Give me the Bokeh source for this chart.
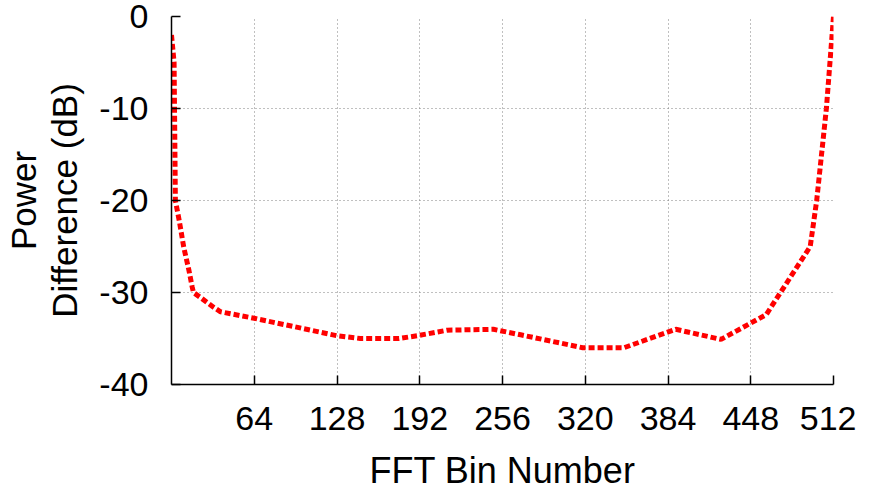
from bokeh.plotting import figure
from bokeh.models import Range1d, FixedTicker, CustomJSTickFormatter
from bokeh.embed import file_html
from bokeh.resources import INLINE

# FFT bin number vs power difference (dB)
bins = [0, 2, 3, 6, 9.5, 13.5, 16, 17, 22, 32.5, 38, 64, 128, 146, 176, 190,
        213, 249, 270, 318, 350, 390, 425, 460, 494, 499, 506.5, 512]
power_db = [-2, -5, -20, -22.2, -25.1, -27.6, -29.4, -30, -30.5, -31.6, -32.1, -32.8,
            -34.7, -35.0, -35.0, -34.7, -34.1, -34.0, -34.6, -36.0, -36.0, -34.0,
            -35.1, -32.4, -25.0, -20.0, -10.0, 0.0]

x_ticks = [64, 128, 192, 256, 320, 384, 448, 512]
y_ticks = [-40, -30, -20, -10, 0]

FONT = "Liberation Sans"

p = figure(frame_width=662, frame_height=368, output_backend="svg", toolbar_location=None,
           x_range=Range1d(0, 512), y_range=Range1d(-40, 0),
           min_border_left=171, min_border_right=23, min_border_top=16,
           min_border_bottom=90)

p.line(bins, power_db, line_color="#ff0000", line_width=5, line_dash="6 3")

p.outline_line_color = None
p.background_fill_color = "white"

fmt = CustomJSTickFormatter(code="return tick.toString();")
for ax in (p.xaxis[0], p.yaxis[0]):
    ax.formatter = fmt
    ax.major_label_text_font = FONT
    ax.major_label_text_font_size = "34px"
    ax.major_label_text_color = "black"
    ax.axis_label_text_font = FONT
    ax.axis_label_text_font_style = "normal"
    ax.axis_label_text_color = "black"
    ax.axis_line_color = "black"
    ax.axis_line_width = 1.5
    ax.major_tick_in = 9
    ax.major_tick_out = 0
    ax.major_tick_line_width = 1.5
    ax.minor_tick_line_color = None

p.xaxis.axis_label_text_font_size = "36px"
p.yaxis.axis_label_text_font_size = "35px"
p.yaxis.axis_label_text_line_height = 1.05
p.xaxis.ticker = FixedTicker(ticks=x_ticks)
p.yaxis.ticker = FixedTicker(ticks=y_ticks)
p.xaxis.axis_label = "FFT Bin Number"
p.yaxis.axis_label = "Power\nDifference (dB)"
p.xaxis.major_label_standoff = 22
p.xaxis.axis_label_standoff = 17
p.yaxis.major_label_standoff = 23
p.yaxis.axis_label_standoff = 12

p.xgrid.ticker = FixedTicker(ticks=[0] + x_ticks)
p.ygrid.ticker = FixedTicker(ticks=y_ticks)
for g in (p.xgrid[0], p.ygrid[0]):
    g.grid_line_color = "#808080"
    g.grid_line_dash = "1 3"
    g.grid_line_width = 1

open("out.html", "w").write(file_html(p, INLINE))
